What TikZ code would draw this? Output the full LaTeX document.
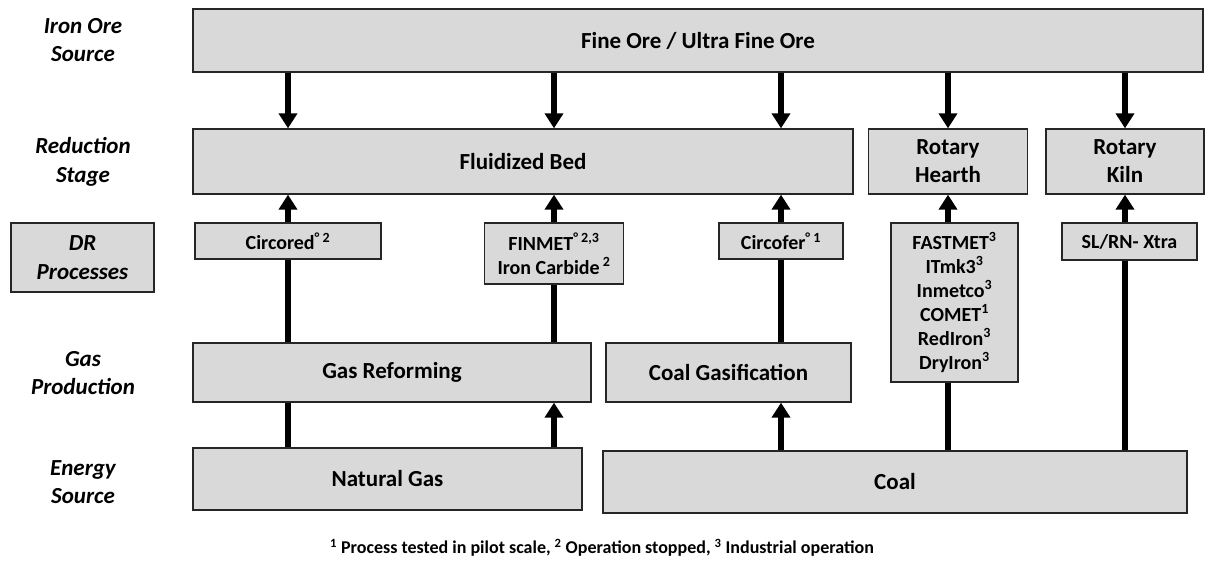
\documentclass[tikz,border=0pt]{standalone}
\usepackage{fontspec}
\setmainfont{Carlito}
\usetikzlibrary{arrows.meta}

\begin{document}
\begin{tikzpicture}[x=1pt,y=-1pt,
    box/.style={draw=black!85, line width=1.3pt, fill=black!15, align=center,
      inner sep=0pt, font=\bfseries\fontsize{23}{28}\selectfont},
    drbox/.style={box, font=\bfseries\fontsize{20}{24}\selectfont},
    stage/.style={align=center, font=\bfseries\itshape\fontsize{23}{28.5}\selectfont},
    pipe/.style={line width=5.5pt},
    feed/.style={pipe, -{Triangle[width=18pt,length=15pt]}}]
      \useasboundingbox (0,0) rectangle (1205,567);

      \node[stage] (IronLbl) at (83, 40) {Iron Ore\\Source};
      \node[stage] (RedLbl) at (83, 162) {Reduction\\Stage};
      \node[drbox, font=\bfseries\itshape\fontsize{23}{28.5}\selectfont,
        minimum width=143pt, minimum height=69pt] (DRLbl) at (82.5, 257.5) {DR\\Processes};
      \node[stage] (GasLbl) at (83, 373) {Gas\\Production};
      \node[stage] (EnLbl) at (83, 482) {Energy\\Source};

      \node[box, minimum width=1010pt, minimum height=63pt] (Ore) at (698, 40.5) {Fine Ore / Ultra Fine Ore};

      \node[box, minimum width=660pt, minimum height=65pt] (Fluid) at (523, 161.5) {Fluidized Bed};
      \node[box, minimum width=159pt, minimum height=65pt] (Hearth) at (948, 161.5) {Rotary\\Hearth};
      \node[box, minimum width=158pt, minimum height=65pt] (Kiln) at (1125, 161.5) {Rotary\\Kiln};

      \node[drbox, minimum width=186pt, minimum height=36pt] (Circ) at (288, 241) {Circored\textsuperscript{° 2}};
      \node[drbox, minimum width=139pt, minimum height=61pt] (Finm) at (554, 253.5)
        {FINMET\textsuperscript{° 2,3}\\Iron Carbide\textsuperscript{ 2}};
      \node[drbox, minimum width=124pt, minimum height=36pt] (Cfer) at (781, 241) {Circofer\textsuperscript{° 1}};
      \node[drbox, minimum width=127pt, minimum height=159pt] (Fast) at (954.5, 302.5)
        {FASTMET\textsuperscript{3}\\ITmk3\textsuperscript{3}\\Inmetco\textsuperscript{3}\\COMET\textsuperscript{1}\\RedIron\textsuperscript{3}\\DryIron\textsuperscript{3}};
      \node[drbox, minimum width=135pt, minimum height=37pt] (Slrn) at (1129.5, 241.5) {SL/RN- Xtra};

      \node[box, minimum width=398pt, minimum height=59pt] (GasRef) at (392, 372.5) {Gas Reforming};
      \node[box, minimum width=245pt, minimum height=59pt] (CoalGas) at (728.5, 372.5) {Coal Gasification};

      \node[box, minimum width=389pt, minimum height=62pt] (NatGas) at (387.5, 479) {Natural Gas};
      \node[box, minimum width=584pt, minimum height=62pt] (Coal) at (895, 482) {Coal};

      \node[font=\bfseries\fontsize{18}{22}\selectfont] (Note) at (602, 548)
        {\textsuperscript{1} Process tested in pilot scale, \textsuperscript{2} Operation stopped, \textsuperscript{3} Industrial operation};

      \draw[feed] (Ore.south -| Circ) -- (Fluid.north -| Circ);
      \draw[feed] (Ore.south -| Finm) -- (Fluid.north -| Finm);
      \draw[feed] (Ore.south -| Cfer) -- (Fluid.north -| Cfer);
      \draw[feed] (Ore.south -| Hearth) -- (Hearth.north);
      \draw[feed] (Ore.south -| Kiln) -- (Kiln.north);

      \draw[feed] (Circ.north) -- (Circ |- Fluid.south);
      \draw[feed] (Finm.north) -- (Finm |- Fluid.south);
      \draw[feed] (Cfer.north) -- (Cfer |- Fluid.south);
      \draw[feed] (Fast.north -| Hearth) -- (Hearth.south);
      \draw[feed] (Slrn.north -| Kiln) -- (Kiln.south);

      \draw[pipe] (GasRef.north -| Circ) -- (Circ.south);
      \draw[pipe] (GasRef.north -| Finm) -- (Finm.south);
      \draw[pipe] (CoalGas.north -| Cfer) -- (Cfer.south);

      \draw[pipe] (NatGas.north -| Circ) -- (GasRef.south -| Circ);
      \draw[feed] (NatGas.north -| Finm) -- (GasRef.south -| Finm);
      \draw[feed] (Coal.north -| Cfer) -- (CoalGas.south -| Cfer);
      \draw[pipe] (Coal.north -| Hearth) -- (Fast.south -| Hearth);
      \draw[pipe] (Coal.north -| Kiln) -- (Slrn.south -| Kiln);
    \end{tikzpicture}
\end{document}
